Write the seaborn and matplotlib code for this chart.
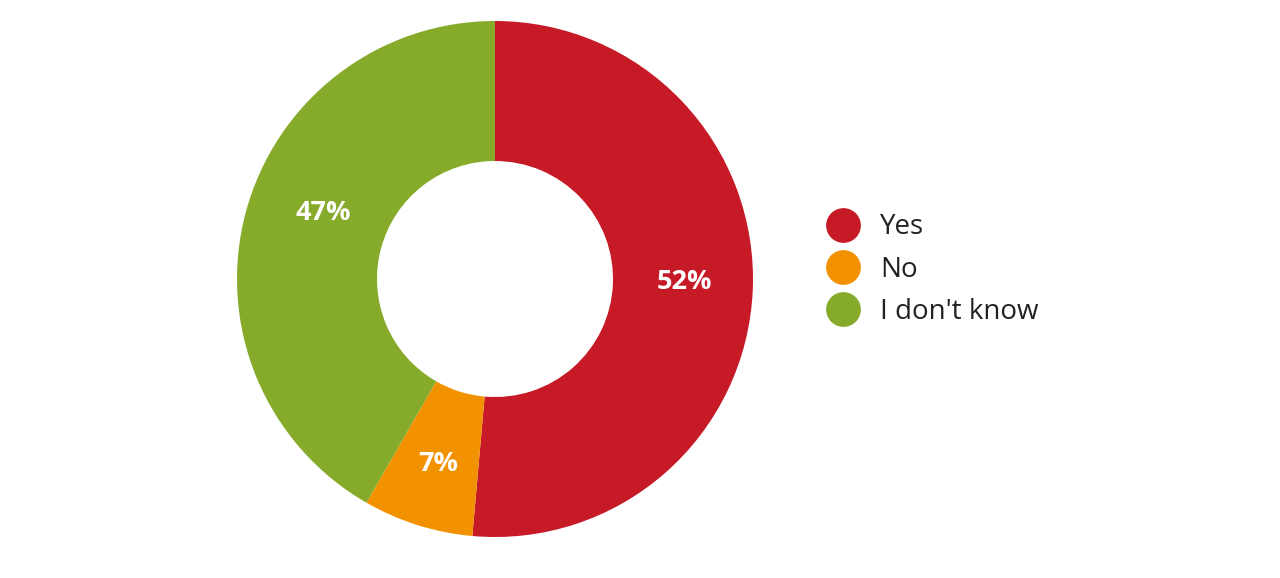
import matplotlib
matplotlib.use("Agg")
import matplotlib.pyplot as plt
from matplotlib.lines import Line2D
import numpy as np
import seaborn as sns

answers = ["Yes", "No", "I don't know"]
shares = [51.4, 6.9, 41.7]
pct_labels = ["52%", "7%", "47%"]
colors = ["#C61A27", "#F39200", "#86AA2A"]

sns.set_theme(style="white")
plt.rcParams['font.family'] = ['Open Sans', 'DejaVu Sans']

fig = plt.figure(figsize=(12.8, 5.78), dpi=100)
cx, cy, r = 495, 279, 258
ax = fig.add_axes([(cx - r) / 1280, (578 - cy - r) / 578, 2 * r / 1280, 2 * r / 578])

palette = sns.color_palette(colors)
wedges, _ = ax.pie(shares, colors=palette, startangle=90, counterclock=False,
                   radius=1, wedgeprops=dict(width=1 - 118 / 258, linewidth=0))

# label angle nudges (deg) and radial distances, to sit where the reference puts them
nudge = [-1.5, -0.5, 6]
dist = [0.733, 0.75, 0.713]
for w, lab, n, d in zip(wedges, pct_labels, nudge, dist):
    mid = np.deg2rad((w.theta1 + w.theta2) / 2 - n)
    ax.text(d * np.cos(mid), d * np.sin(mid), lab, ha='center', va='center',
            color='white', fontsize=19.5, fontweight='bold')
ax.set_xlim(-1, 1)
ax.set_ylim(-1, 1)
ax.set_aspect('equal')
ax.axis('off')

fs = 20
px = fs * 100 / 72
handles = [Line2D([0], [0], marker='o', linestyle='', markersize=24,
                  markerfacecolor=c, markeredgecolor=c) for c in colors]
fig.legend(handles, answers, loc='center left', bbox_to_anchor=(823 / 1280, (578 - 269.5) / 578),
           frameon=False, fontsize=fs, handletextpad=17 / px,
           labelspacing=(42 - px) / px, handlelength=40 / px,
           borderpad=0, borderaxespad=0, labelcolor='#222222')

fig.savefig("out.png", dpi=100)
